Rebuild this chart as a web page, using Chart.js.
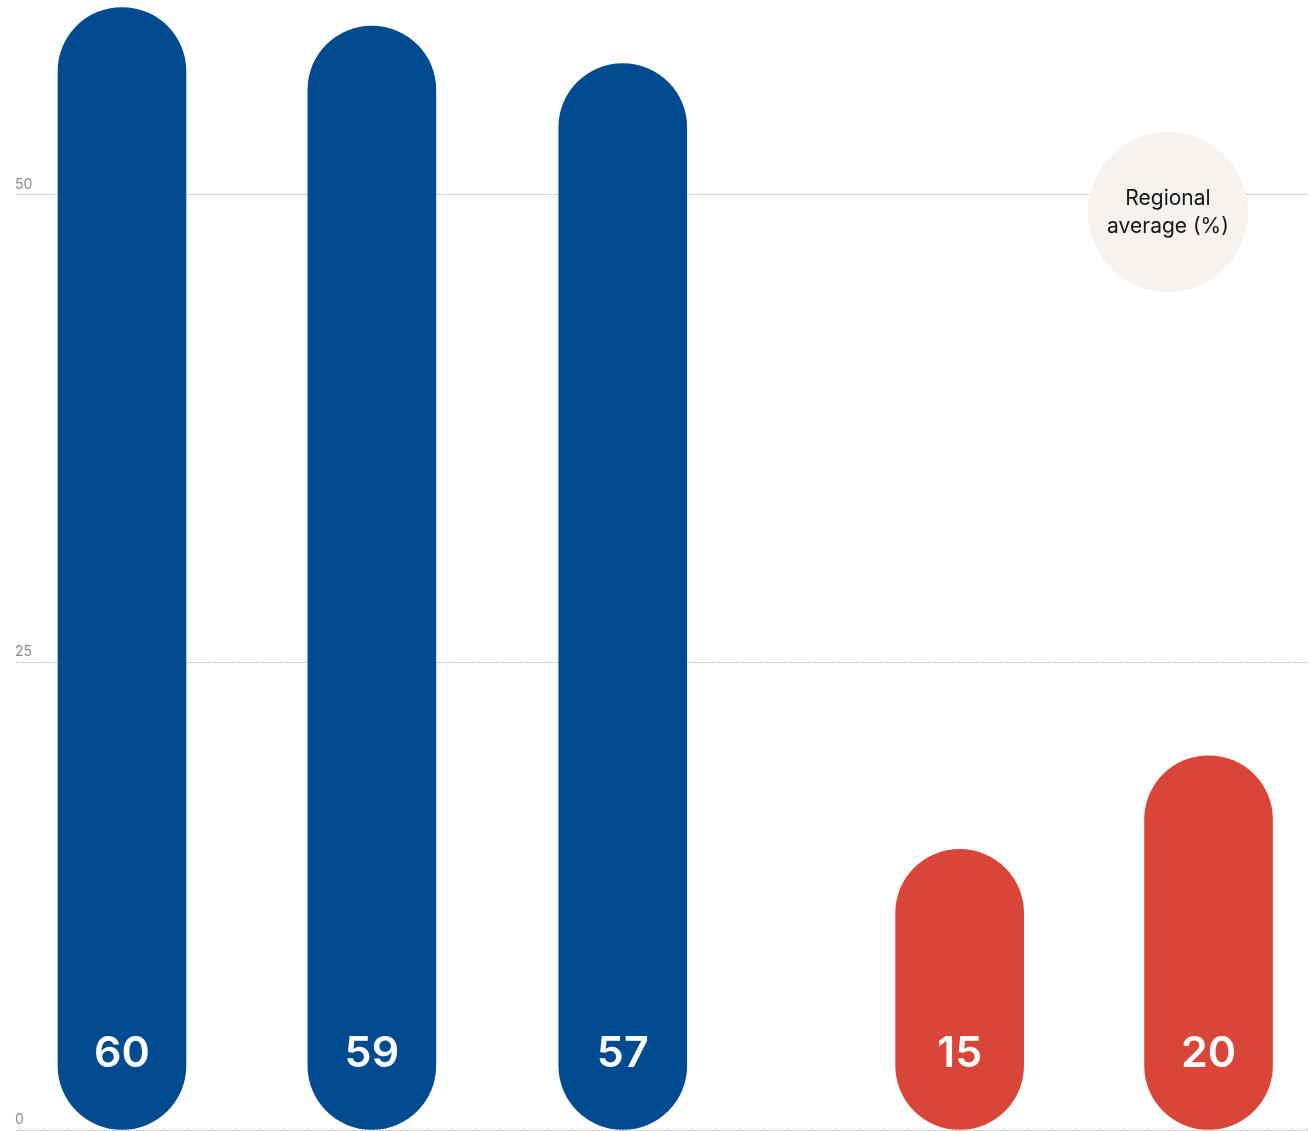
<!DOCTYPE html>
<html>
<head>
<meta charset="utf-8">
<script src="https://cdn.jsdelivr.net/npm/chart.js@4"></script>
<style>
  html, body { margin: 0; padding: 0; background: #fff; }
  #wrap { width: 1309px; height: 1131px; }
</style>
</head>
<body>
<div id="wrap"><canvas id="chart"></canvas></div>
<script>
// data
const values = [60, 59, 57, 15, 20];
const xPos = [0, 1, 2.004, 3.352, 4.348];    // bar positions (gap before the regional bars)
const groups = ["country", "country", "country", "region", "region"];
const yTicks = [0, 25, 50];
const bubbleLines = ["Regional", "average (%)"];

const BLUE = "#004b8f", RED = "#d94637";
const colors = groups.map(g => g === "region" ? RED : BLUE);
const FONT = "Inter, 'Noto Sans', sans-serif";

// y tick labels sit just above their grid line, at the left edge
const tickLabels = {
  id: "tickLabels",
  afterDraw(chart){
    const { ctx, chartArea, scales } = chart;
    ctx.save();
    ctx.fillStyle = "#8a8a8a";
    ctx.font = "14px " + FONT;
    ctx.textAlign = "left";
    ctx.textBaseline = "middle";
    yTicks.forEach(v => ctx.fillText(String(v), chartArea.left - 1, scales.y.getPixelForValue(v) - 10));
    ctx.restore();
  }
};

const barLabels = {
  id: "barLabels",
  afterDatasetsDraw(chart){
    const ctx = chart.ctx;
    const meta = chart.getDatasetMeta(0);
    ctx.save();
    ctx.fillStyle = "#fff";
    ctx.font = "600 43px " + FONT;
    ctx.textAlign = "center";
    ctx.textBaseline = "middle";
    meta.data.forEach((bar, i) => {
      ctx.fillText(String(values[i]), bar.x, bar.base - 75);
    });
    ctx.restore();
  }
};

const bubble = {
  id: "bubble",
  beforeDatasetsDraw(chart){
    const { ctx, chartArea } = chart;
    const cx = chartArea.right - 141, cy = chartArea.top + 212;
    ctx.save();
    ctx.beginPath();
    ctx.arc(cx, cy, 80, 0, Math.PI * 2);
    ctx.fillStyle = "#f5f2ef";
    ctx.fill();
    ctx.fillStyle = "#161616";
    ctx.font = "21px " + FONT;
    ctx.textAlign = "center";
    ctx.textBaseline = "middle";
    ctx.fillText(bubbleLines[0], cx, cy - 13);
    ctx.fillText(bubbleLines[1], cx, cy + 15);
    ctx.restore();
  }
};

new Chart(document.getElementById("chart"), {
  type: "bar",
  data: {
    datasets: [{
      data: values.map((v, i) => ({ x: xPos[i], y: v })),
      backgroundColor: colors,
      barThickness: 128,
      borderRadius: 64,
      borderSkipped: false
    }]
  },
  options: {
    responsive: true,
    maintainAspectRatio: false,
    animation: false,
    layout: { padding: { left: 16, top: 0, right: 0, bottom: 1 } },
    plugins: { legend: { display: false }, tooltip: { enabled: false } },
    scales: {
      x: {
        type: "linear",
        offset: false,
        min: -0.424,
        max: 4.75,
        display: false
      },
      y: {
        min: 0,
        max: 60.4,
        afterBuildTicks: s => { s.ticks = yTicks.map(v => ({ value: v })); },
        border: { display: false, dash: [2, 1] },
        grid: { color: "#c4c4c4", drawTicks: false, lineWidth: 1 },
        ticks: { display: false }
      }
    }
  },
  plugins: [bubble, barLabels, tickLabels]
});
</script>
</body>
</html>
